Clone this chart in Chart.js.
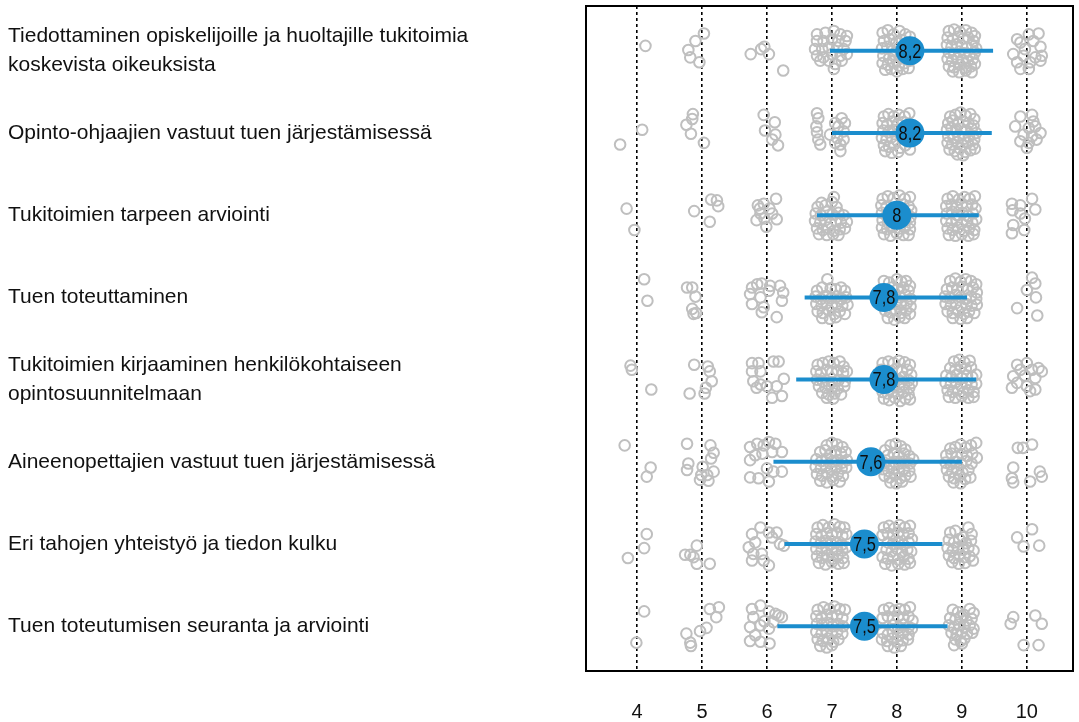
<!DOCTYPE html>
<html lang="fi">
<head>
<meta charset="utf-8">
<title>Tukitoimien arviot</title>
<script src="https://cdn.jsdelivr.net/npm/chart.js@4/dist/chart.umd.min.js"></script>
<style>
  html, body { margin: 0; padding: 0; background: #ffffff; }
  #wrap { width: 1079px; height: 722px; }
</style>
</head>
<body>
<div id="wrap"><canvas id="chart" width="1079" height="722"></canvas></div>
<script>
// Statements (top to bottom)
const categories = [
  ['Tiedottaminen opiskelijoille ja huoltajille tukitoimia', 'koskevista oikeuksista'],
  'Opinto-ohjaajien vastuut tuen järjestämisessä',
  'Tukitoimien tarpeen arviointi',
  'Tuen toteuttaminen',
  ['Tukitoimien kirjaaminen henkilökohtaiseen', 'opintosuunnitelmaan'],
  'Aineenopettajien vastuut tuen järjestämisessä',
  'Eri tahojen yhteistyö ja tiedon kulku',
  'Tuen toteutumisen seuranta ja arviointi'
];

// Mean score per statement and the spread line (low / high end)
const means = [8.2, 8.2, 8.0, 7.8, 7.8, 7.6, 7.5, 7.5];
const rangeLow = [6.97, 7.0, 6.77, 6.58, 6.45, 6.1, 6.27, 6.16];
const rangeHigh = [9.48, 9.46, 9.26, 9.08, 9.22, 9.0, 8.7, 8.78];

// Score scale
const xTicks = [4, 5, 6, 7, 8, 9, 10];

// Individual answers: [score position, vertical jitter within the row]
const answers1 = [
  [4.13,-.06],
  [5.03,-.21],[4.9,-.12],[4.79,-.01],[4.82,.08],[4.96,.14],
  [5.75,.04],[5.91,-.02],[5.96,-.05],[6.03,.04],[6.25,.24],
  [6.77,-.2],[6.9,-.22],[7.03,-.24],[7.13,-.2],[7.23,-.18],[6.77,-.12],[6.87,-.12],[7.0,-.14],[7.1,-.12],[7.21,-.12],
  [6.74,-.02],[6.85,-.02],[6.95,-.04],[7.08,-.04],[7.18,-.02],[6.77,.06],[6.87,.08],[7.0,.04],[7.13,.06],[7.23,.04],
  [6.82,.12],[6.95,.12],[7.05,.16],[7.03,.22],[7.15,.12],
  [7.78,-.22],[7.86,-.25],[7.95,-.2],[8.04,-.24],[8.13,-.2],[8.2,-.17],
  [7.8,-.12],[7.89,-.14],[7.99,-.1],[8.08,-.13],[8.17,-.1],
  [7.77,-.03],[7.85,-.05],[7.93,0],[8.02,-.03],[8.11,.01],[8.21,-.04],
  [7.79,.06],[7.88,.09],[7.97,.05],[8.06,.08],[8.15,.06],
  [7.78,.15],[7.86,.17],[7.94,.13],[8.03,.18],[8.12,.15],[8.2,.12],
  [7.82,.23],[7.91,.22],[8.0,.25],[8.09,.22],[8.18,.21],
  [8.8,-.24],[8.88,-.26],[8.97,-.23],[9.06,-.25],[9.15,-.22],[9.2,-.18],
  [8.78,-.16],[8.86,-.14],[8.94,-.17],[9.02,-.15],[9.1,-.16],[9.18,-.12],
  [8.77,-.07],[8.84,-.05],[8.92,-.08],[9.0,-.06],[9.08,-.04],[9.16,-.07],[9.22,-.03],
  [8.8,.02],[8.88,.04],[8.96,.01],[9.04,.03],[9.12,.05],[9.2,.02],
  [8.78,.1],[8.85,.12],[8.93,.09],[9.01,.11],[9.09,.13],[9.17,.1],
  [8.8,.19],[8.88,.2],[8.97,.17],[9.05,.21],[9.14,.19],[9.2,.16],
  [8.86,.25],[8.96,.26],[9.06,.24],[9.15,.26],
  [9.85,-.14],[10.03,-.2],[10.18,-.21],[10.1,-.12],[9.9,-.1],[9.97,-.02],[10.21,-.05],[9.79,.04],
  [9.95,.06],[10.13,.08],[10.23,.06],[9.85,.14],[10.05,.14],[10.21,.12],[9.9,.22],[10.03,.22]
];
const answers2 = [
  [4.08,-.04],[3.74,.14],
  [4.86,-.23],[4.85,-.17],[4.76,-.1],[4.83,.01],[5.03,.12],
  [5.95,-.22],[6.12,-.13],[5.97,-.03],[6.13,.02],[6.08,.08],[6.17,.15],
  [6.77,-.24],[6.79,-.18],[6.76,-.08],[6.77,-.01],[6.79,.08],[6.82,.14],[6.97,.02],[7.05,-.12],[7.15,-.18],
  [7.1,-.08],[7.18,-.02],[7.08,.06],[7.18,.08],[7.13,.14],[7.13,.22],[7.05,.12],[7.2,-.12],
  [7.8,-.2],[7.87,-.23],[7.95,-.2],[8.03,-.22],[8.12,-.2],[8.19,-.24],
  [7.78,-.12],[7.85,-.1],[7.93,-.14],[8.01,-.11],[8.09,-.13],[8.17,-.09],
  [7.79,-.03],[7.87,-.01],[7.95,-.04],[8.03,0],[8.1,-.02],
  [7.77,.06],[7.84,.08],[7.92,.05],[8.0,.09],[8.08,.06],[8.16,.1],
  [7.8,.15],[7.88,.17],[7.96,.14],[8.05,.18],[8.13,.15],[8.2,.2],
  [7.82,.22],[7.92,.24],[8.02,.23],
  [8.82,-.2],[8.9,-.22],[8.98,-.25],[9.06,-.21],[9.13,-.23],[9.19,-.17],
  [8.79,-.12],[8.86,-.15],[8.94,-.11],[9.02,-.14],[9.1,-.12],[9.18,-.09],
  [8.77,-.04],[8.84,-.06],[8.91,-.02],[8.99,-.05],[9.07,-.03],[9.15,-.05],[9.22,0],
  [8.79,.04],[8.87,.06],[8.95,.03],[9.03,.07],[9.11,.04],[9.19,.08],
  [8.78,.12],[8.85,.14],[8.93,.11],[9.01,.15],[9.09,.12],[9.17,.14],
  [8.81,.2],[8.89,.22],[8.97,.19],[9.05,.23],[9.13,.21],[9.2,.19],
  [8.93,.26],[9.02,.27],
  [9.9,-.2],[10.08,-.22],[10.1,-.14],[9.82,-.08],[10.03,-.06],[10.13,-.08],[10.21,0],
  [10.08,.04],[9.9,.1],[10.03,.12],[10.15,.08],[10.0,.18],[9.95,.02]
];
const answers3 = [
  [3.84,-.08],[3.96,.18],
  [4.88,-.05],[5.14,-.19],[5.23,-.18],[5.25,-.11],[5.12,.08],
  [5.86,-.12],[5.95,-.14],[6.14,-.2],[6.04,-.08],[5.9,-.02],[6.08,-.02],[5.84,.06],[5.96,.04],[6.15,.05],[5.99,.14],[5.89,-.08],
  [7.03,-.22],[7.0,-.16],[6.9,-.12],[6.78,-.1],[6.84,-.15],[7.07,-.1],
  [6.75,-.02],[6.83,0],[6.92,-.04],[7.01,-.01],[7.1,-.03],[7.18,0],
  [6.74,.07],[6.82,.09],[6.9,.06],[6.98,.1],[7.06,.07],[7.14,.09],[7.23,.08],
  [6.77,.16],[6.86,.18],[6.94,.15],[7.03,.19],[7.12,.17],[7.2,.16],
  [6.8,.23],[6.92,.24],[7.02,.23],[7.1,.24],
  [7.78,-.2],[7.86,-.23],[7.95,-.21],[8.04,-.24],[8.12,-.2],[8.2,-.22],
  [7.76,-.12],[7.84,-.1],[8.1,-.13],[8.18,-.11],[8.22,-.06],[7.95,-.08],
  [7.77,-.03],[7.84,.01],[8.15,-.02],[8.21,.02],[8.03,.02],
  [7.78,.06],[7.86,.09],[8.13,.07],[8.2,.09],
  [7.77,.15],[7.85,.17],[7.94,.14],[8.04,.16],[8.12,.15],[8.2,.17],
  [7.8,.23],[7.9,.25],[8.0,.22],[8.1,.24],[8.18,.24],
  [8.78,-.2],[8.86,-.23],[8.95,-.19],[9.04,-.22],[9.12,-.2],[9.2,-.23],
  [8.76,-.11],[8.84,-.13],[8.92,-.1],[9.0,-.14],[9.08,-.11],[9.16,-.13],[9.21,-.08],
  [8.77,-.02],[8.85,-.04],[8.93,0],[9.01,-.03],[9.09,.01],[9.17,-.02],
  [8.76,.07],[8.84,.09],[8.92,.06],[9.0,.1],[9.08,.07],[9.16,.09],[9.22,.05],
  [8.78,.16],[8.86,.18],[8.94,.15],[9.03,.19],[9.11,.16],[9.19,.18],
  [8.8,.24],[8.9,.25],[9.0,.23],[9.1,.25],[9.18,.23],
  [9.77,-.14],[9.9,-.12],[9.78,-.06],[9.9,-.02],[10.08,-.2],[10.13,-.07],[9.97,.04],[9.79,.12],[9.77,.22],[9.96,.18]
];
const answers4 = [
  [4.11,-.22],[4.16,.04],
  [4.77,-.12],[4.85,-.12],[4.9,-.01],[4.85,.14],[4.87,.2],[4.91,.19],
  [5.77,-.12],[5.85,-.16],[5.92,-.17],[6.05,-.14],[6.2,-.14],[6.25,-.06],[5.74,-.04],[5.9,0],
  [5.77,.08],[5.95,.12],[5.92,.18],[6.23,.04],[6.15,.24],[6.03,-.08],
  [6.93,-.22],[6.85,-.12],[6.98,-.11],[7.06,-.1],[7.14,-.12],[7.2,-.08],[6.77,-.08],
  [6.75,-.01],[6.83,.02],[6.91,-.02],[6.99,.01],[7.07,-.01],[7.15,.02],[7.22,0],
  [6.76,.08],[6.84,.1],[6.92,.07],[7.0,.11],[7.08,.08],[7.16,.1],[7.24,.09],
  [6.78,.17],[6.86,.19],[6.95,.16],[7.04,.2],[7.12,.17],[7.2,.2],
  [6.85,.25],[6.97,.26],[7.06,.24],
  [7.8,-.2],[7.88,-.18],[8.0,-.22],[8.07,-.19],[8.14,-.2],[8.2,-.14],
  [7.92,-.12],[8.01,-.1],[8.1,-.12],[8.18,-.08],
  [7.97,-.02],[8.05,0],[8.13,-.03],[8.21,.02],
  [7.9,.08],[7.98,.06],[8.06,.09],[8.15,.07],[8.21,.11],
  [7.82,.16],[7.9,.18],[7.98,.15],[8.06,.19],[8.14,.16],[8.2,.2],
  [7.86,.25],[7.96,.27],[8.04,.24],[8.12,.25],
  [8.82,-.2],[8.9,-.23],[8.98,-.19],[9.06,-.22],[9.14,-.2],[9.22,-.16],
  [8.77,-.1],[8.85,-.12],[8.93,-.09],[9.01,-.13],[9.09,-.1],[9.17,-.12],[9.23,-.06],
  [8.74,-.01],[8.82,.01],[8.9,-.03],[8.98,0],[9.06,.02],[9.14,-.01],[9.22,.02],
  [8.75,.08],[8.83,.1],[8.91,.07],[8.99,.11],[9.07,.08],[9.15,.1],[9.23,.09],
  [8.78,.17],[8.86,.19],[8.94,.16],[9.03,.2],[9.11,.17],[9.19,.19],
  [8.86,.25],[8.98,.26],[9.08,.25],
  [10.08,-.24],[10.13,-.17],[10.0,-.09],[10.14,0],[9.85,.13],[10.16,.22]
];
const answers5 = [
  [3.9,-.17],[3.92,-.12],[4.22,.12],
  [4.88,-.18],[5.09,-.16],[5.12,-.1],[5.15,.02],[4.81,.17],[5.04,.17],[5.06,.1],
  [5.77,-.2],[5.87,-.2],[6.1,-.22],[6.18,-.22],[5.77,-.1],[5.9,-.1],[5.79,.02],[5.9,.06],
  [6.0,.08],[6.15,.08],[6.26,-.01],[6.08,.22],[6.23,.2],[5.84,.1],
  [6.78,-.18],[6.86,-.2],[6.95,-.22],[7.03,-.2],[7.12,-.22],[7.18,-.16],
  [6.76,-.1],[6.83,-.08],[6.92,-.12],[7.0,-.09],[7.09,-.11],[7.17,-.08],[7.23,-.1],
  [6.77,0],[6.86,.02],[7.0,.03],[7.1,.01],[7.2,.02],
  [6.8,.08],[6.9,.1],[7.0,.09],[7.09,.11],[7.19,.08],
  [6.85,.16],[6.95,.18],[7.04,.17],[7.14,.18],
  [6.92,.22],[7.02,.23],
  [7.78,-.2],[7.87,-.22],[7.95,-.2],[8.03,-.23],[8.12,-.21],[8.2,-.18],
  [7.76,-.12],[7.92,-.1],[8.0,-.13],[8.08,-.1],[8.16,-.12],[8.22,-.06],
  [7.94,-.02],[8.02,0],[8.1,-.03],[8.18,.01],[8.23,.04],
  [7.95,.07],[8.03,.09],[8.11,.06],[8.19,.1],
  [7.78,.15],[7.86,.17],[7.94,.14],[8.02,.18],[8.1,.15],[8.18,.18],
  [7.8,.23],[7.88,.25],[7.97,.22],[8.05,.26],[8.13,.23],[8.2,.24],
  [8.88,-.22],[8.96,-.24],[9.04,-.21],[9.12,-.23],
  [8.82,-.14],[8.9,-.12],[8.98,-.16],[9.06,-.13],[9.14,-.15],
  [8.76,-.05],[8.84,-.03],[8.92,-.06],[9.0,-.02],[9.08,-.05],[9.16,-.03],[9.22,-.06],
  [8.75,.04],[8.83,.06],[8.91,.03],[8.99,.07],[9.07,.04],[9.15,.06],[9.22,.05],
  [8.78,.13],[8.86,.15],[8.94,.12],[9.02,.16],[9.1,.13],[9.18,.15],
  [8.8,.21],[8.9,.22],[9.0,.2],[9.1,.22],[9.18,.21],
  [9.85,-.18],[10.0,-.2],[10.18,-.14],[9.9,-.12],[10.08,-.12],[9.79,-.04],[9.97,-.05],
  [10.13,-.02],[10.23,-.1],[9.85,.04],[9.77,.1],[10.0,.08],[10.13,.12],[10.05,.14]
];
const answers6 = [
  [3.81,-.2],[4.21,.07],[4.15,.18],
  [4.77,-.22],[5.13,-.2],[5.18,-.11],[5.14,-.04],[4.79,.02],[4.77,.1],[5.01,.06],
  [5.18,.12],[5.08,.16],[4.97,.22],[5.1,.23],[4.99,.16],
  [5.74,-.18],[5.85,-.22],[5.95,-.2],[6.03,-.24],[6.13,-.22],[6.23,-.12],[5.74,-.02],[5.82,-.08],
  [6.08,-.12],[6.0,.08],[6.1,.12],[6.23,.12],[5.74,.19],[5.87,.2],[6.03,.24],[5.93,-.1],
  [6.92,-.2],[7.0,-.23],[7.08,-.21],[7.16,-.18],
  [6.82,-.12],[6.9,-.14],[6.98,-.1],[7.06,-.13],[7.14,-.1],[7.21,-.12],
  [6.76,-.03],[6.84,-.01],[6.92,-.04],[7.0,0],[7.08,-.02],[7.16,.01],[7.23,-.02],
  [6.75,.06],[6.83,.08],[6.91,.05],[6.99,.09],[7.07,.06],[7.15,.08],[7.22,.07],
  [6.77,.15],[6.85,.17],[6.93,.14],[7.01,.18],[7.09,.15],[7.17,.17],
  [6.82,.23],[6.92,.25],[7.02,.22],[7.12,.24],
  [7.82,-.14],[7.9,-.2],[7.98,-.22],[8.06,-.19],[8.13,-.15],
  [7.86,-.08],[7.95,-.1],[8.03,-.07],[8.11,-.1],[8.19,-.07],
  [7.8,.01],[7.88,.03],[7.96,0],[8.04,.02],[8.12,-.01],[8.2,.02],[8.25,-.03],
  [7.79,.09],[7.87,.11],[7.95,.08],[8.03,.12],[8.11,.09],[8.19,.11],
  [7.81,.17],[7.89,.19],[7.97,.16],[8.05,.2],[8.13,.17],[8.21,.18],
  [7.9,.25],[7.99,.26],[8.08,.24],
  [8.82,-.16],[8.9,-.18],[8.98,-.21],[9.06,-.17],[9.14,-.2],[9.22,-.23],
  [8.76,-.08],[8.84,-.1],[8.92,-.06],[9.0,-.09],[9.08,-.07],[9.16,-.1],[9.23,-.05],
  [8.75,.01],[8.83,.03],[8.91,0],[8.99,.02],[9.07,-.01],[9.15,.02],
  [8.77,.1],[8.85,.12],[8.93,.09],[9.01,.13],[9.1,.1],
  [8.8,.18],[8.88,.2],[8.96,.17],[9.05,.21],[9.13,.19],
  [8.87,.25],[8.98,.26],
  [9.86,-.17],[9.94,-.17],[10.08,-.21],[9.79,.07],[9.77,.2],[9.79,.25],[10.05,.24],[10.2,.12],[10.23,.18]
];
const answers7 = [
  [3.86,.17],[4.11,.05],[4.15,-.12],
  [4.74,.13],[4.82,.13],[4.92,.02],[4.87,.16],[4.92,.24],[5.12,.24],
  [5.77,-.12],[5.9,-.2],[6.03,-.14],[6.15,-.14],[6.2,0],[6.26,.02],[5.72,.04],[5.82,-.02],
  [5.79,.12],[5.77,.2],[5.95,.2],[6.03,.26],[5.92,.12],[6.08,-.08],
  [6.78,-.2],[6.86,-.23],[6.95,-.2],[7.04,-.24],[7.12,-.21],[7.19,-.2],
  [6.76,-.12],[6.84,-.1],[6.92,-.13],[7.0,-.11],[7.08,-.14],[7.16,-.1],[7.22,-.12],
  [6.75,-.03],[6.83,-.01],[6.91,-.04],[6.99,0],[7.07,-.02],[7.15,.01],
  [6.76,.06],[6.84,.08],[6.92,.05],[7.0,.09],[7.08,.06],[7.16,.08],[7.22,.04],
  [6.77,.15],[6.85,.17],[6.93,.14],[7.01,.18],[7.09,.15],[7.17,.17],
  [6.8,.23],[6.9,.25],[7.0,.22],[7.1,.24],[7.18,.23],
  [7.8,-.2],[7.88,-.22],[7.96,-.19],[8.04,-.23],[8.12,-.2],[8.2,-.22],
  [7.78,-.11],[7.86,-.13],[7.94,-.1],[8.02,-.14],[8.1,-.11],[8.18,-.13],[8.23,-.06],
  [7.86,-.02],[7.94,0],[8.02,-.03],[8.1,.01],[8.18,-.02],
  [7.84,.07],[7.92,.09],[8.0,.06],[8.08,.1],[8.16,.07],[8.22,.09],
  [7.78,.16],[7.86,.18],[7.94,.15],[8.02,.19],[8.1,.16],[8.18,.18],
  [7.82,.24],[7.92,.26],[8.02,.24],[8.12,.25],[8.2,.23],
  [8.82,-.14],[8.9,-.16],[9.1,-.2],[9.15,-.12],[9.02,-.08],
  [8.8,-.05],[8.88,-.02],[8.96,-.06],[9.06,-.01],[9.14,-.04],
  [8.78,.05],[8.86,.08],[8.94,.04],[9.02,.07],[9.1,.05],[9.18,.08],
  [8.8,.14],[8.88,.17],[8.96,.13],[9.04,.16],[9.12,.15],[9.17,.2],
  [8.85,.22],[8.95,.24],[9.05,.23],
  [9.85,-.08],[10.08,-.18],[9.95,.03],[10.19,.02]
];
const answers8 = [
  [4.11,-.18],[3.99,.2],
  [4.76,.09],[4.82,.2],[4.83,.24],[4.97,.06],[5.07,.02],[5.12,-.21],[5.26,-.23],[5.22,-.11],
  [5.77,-.21],[5.9,-.25],[6.03,-.18],[6.18,-.13],[5.79,-.11],[5.74,.01],[5.9,-.01],[6.03,.03],
  [5.82,.11],[5.74,.18],[5.9,.19],[6.04,.21],[6.13,-.15],[6.23,-.11],[5.96,-.06],[6.1,-.05],
  [6.78,-.2],[6.87,-.23],[6.96,-.21],[7.04,-.24],[7.12,-.21],[7.2,-.2],
  [6.76,-.12],[6.84,-.1],[6.92,-.14],[7.0,-.11],[7.08,-.13],[7.16,-.1],
  [6.77,-.03],[6.85,-.01],[6.93,-.04],[7.01,0],[7.09,-.03],[7.17,0],
  [6.76,.07],[6.84,.09],[6.92,.06],[7.0,.1],[7.08,.07],[7.16,.09],
  [6.78,.16],[6.86,.18],[6.94,.15],[7.02,.19],[7.1,.16],
  [6.82,.24],[6.92,.26],[7.0,.23],
  [7.8,-.2],[7.88,-.22],[7.96,-.19],[8.04,-.21],[8.12,-.2],[8.2,-.23],
  [7.78,-.1],[7.86,-.12],[7.94,-.09],[8.02,-.12],[8.1,-.1],[8.18,-.12],[8.24,-.07],
  [7.94,-.01],[8.02,.02],[8.1,-.02],[8.18,.01],[8.23,.03],
  [7.78,.08],[7.86,.1],[7.94,.07],[8.02,.11],[8.1,.08],[8.18,.1],
  [7.77,.16],[7.85,.18],[7.93,.15],[8.01,.19],[8.09,.17],[8.17,.16],
  [7.86,.24],[7.96,.26],[8.06,.24],
  [8.86,-.2],[8.94,-.17],[9.12,-.21],[9.18,-.16],[9.03,-.14],
  [8.82,-.1],[8.9,-.08],[8.98,-.11],[9.07,-.07],[9.15,-.09],
  [8.8,-.01],[8.88,.02],[8.96,-.02],[9.04,.01],[9.12,-.01],[9.18,.03],
  [8.84,.08],[8.92,.1],[9.0,.07],[9.08,.09],[9.16,.08],
  [8.9,.16],[8.98,.18],[9.04,.15],[8.88,.23],[9.0,.21],
  [9.79,-.11],[9.75,-.03],[10.13,-.13],[10.23,-.03],[9.95,.23],[10.18,.23]
];
const answersByRow = [answers1, answers2, answers3, answers4, answers5, answers6, answers7, answers8];

const BLUE = '#1b8dcd';
const GREY = '#bfbfbf';
const FONT = "'Liberation Sans', Arial, sans-serif";

// Score label in Finnish notation (decimal comma)
const fiNumber = v => String(+v.toFixed(1)).replace('.', ',');

const answerPoints = answersByRow.flatMap((row, i) =>
  row.map(([x, dy]) => ({ x: x, y: i + 1 + dy }))
);

const rangeDatasets = means.map((m, i) => ({
  type: 'scatter',
  label: 'vaihteluväli ' + (i + 1),
  data: [{ x: rangeLow[i], y: i + 1 }, { x: rangeHigh[i], y: i + 1 }],
  showLine: true,
  borderColor: BLUE,
  borderWidth: 4,
  pointRadius: 0,
  order: 2
}));

// Frame around the plotting area
const frame = {
  id: 'frame',
  afterDatasetsDraw(chart) {
    const { ctx, chartArea: a } = chart;
    ctx.save();
    ctx.strokeStyle = '#000';
    ctx.lineWidth = 2;
    ctx.strokeRect(a.left, a.top, a.right - a.left, a.bottom - a.top);
    ctx.restore();
  }
};

// Mean value printed inside each blue disc
const meanLabels = {
  id: 'meanLabels',
  afterDatasetsDraw(chart) {
    const meta = chart.getDatasetMeta(0);
    const { ctx } = chart;
    ctx.save();
    ctx.fillStyle = '#0d0d0d';
    ctx.font = '21px ' + FONT;
    ctx.textAlign = 'center';
    ctx.textBaseline = 'middle';
    meta.data.forEach((el, i) => {
      ctx.save();
      ctx.translate(el.x, el.y + 1);
      ctx.scale(0.78, 1);
      ctx.fillText(fiNumber(means[i]), 0, 0);
      ctx.restore();
    });
    ctx.restore();
  }
};

new Chart(document.getElementById('chart'), {
  type: 'scatter',
  data: {
    datasets: [
      {
        label: 'keskiarvo',
        data: means.map((m, i) => ({ x: m, y: i + 1 })),
        pointRadius: 14.5,
        pointHoverRadius: 14.5,
        backgroundColor: BLUE,
        borderWidth: 0,
        order: 1
      },
      ...rangeDatasets,
      {
        label: 'vastaukset',
        data: answerPoints,
        pointRadius: 5.3,
        pointHoverRadius: 5.3,
        borderColor: GREY,
        borderWidth: 2,
        backgroundColor: 'rgba(0,0,0,0)',
        order: 3
      }
    ]
  },
  options: {
    responsive: false,
    animation: false,
    devicePixelRatio: 1,
    layout: { autoPadding: false, padding: { top: 6, right: 6, left: 8, bottom: 0 } },
    plugins: {
      legend: { display: false },
      tooltip: { enabled: false }
    },
    scales: {
      x: {
        type: 'linear',
        min: 3.215,
        max: 10.71,
        afterBuildTicks: s => { s.ticks = xTicks.map(v => ({ value: v })); },
        afterFit: s => { s.height = 51; s.paddingLeft = 0; s.paddingRight = 0; },
        grid: { color: '#000', lineWidth: 1.6, drawTicks: false },
        border: { display: false, dash: [3, 3] },
        ticks: {
          padding: 29,
          color: '#111',
          font: { family: FONT, size: 20, lineHeight: 1.2 },
          callback: v => String(v)
        }
      },
      y: {
        type: 'linear',
        reverse: true,
        min: 0.455,
        max: 8.545,
        afterBuildTicks: s => { s.ticks = categories.map((c, i) => ({ value: i + 1 })); },
        afterFit: s => { s.width = 578; s.paddingTop = 0; s.paddingBottom = 0; },
        grid: { display: false },
        border: { display: false },
        ticks: {
          crossAlign: 'far',
          autoSkip: false,
          color: '#111',
          font: { family: FONT, size: 21, lineHeight: 1.38 },
          callback: v => categories[Math.round(v) - 1]
        }
      }
    }
  },
  plugins: [frame, meanLabels]
});
</script>
</body>
</html>
